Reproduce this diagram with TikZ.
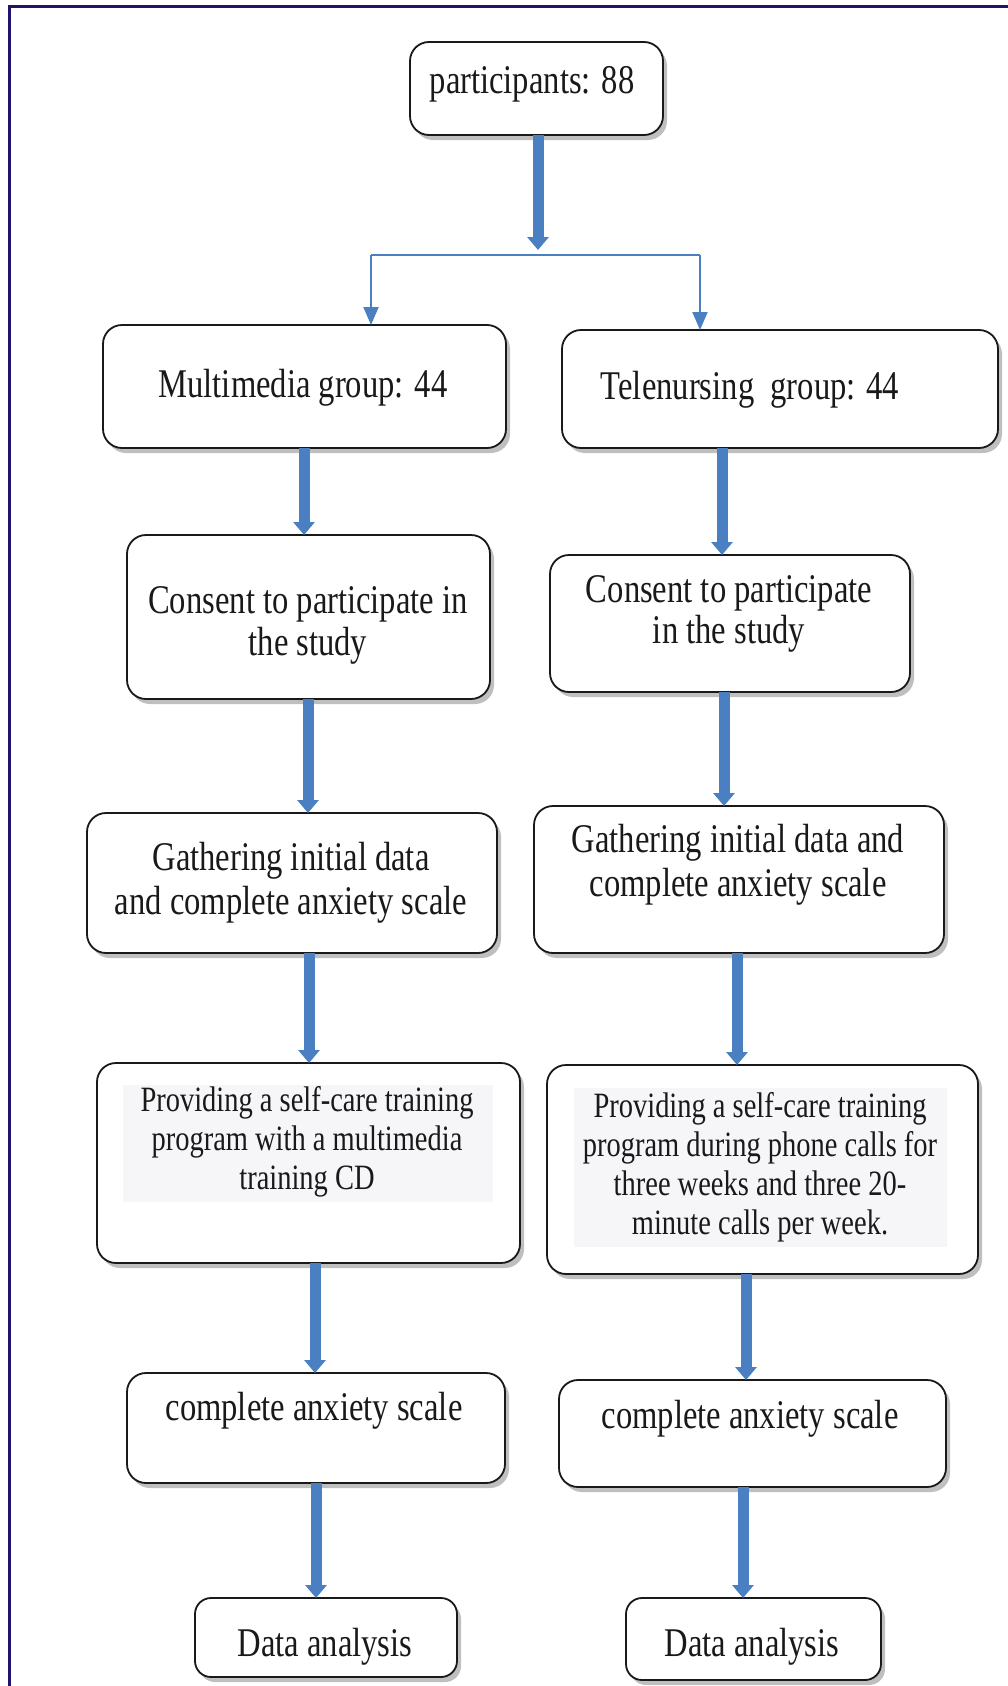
\documentclass[tikz,border=0pt]{standalone}
\usepackage{fontspec}
\setmainfont{Liberation Serif}[FakeStretch=0.8]
\usetikzlibrary{arrows.meta,shadows}
\definecolor{arrowblue}{RGB}{74,128,193}
\definecolor{framenavy}{RGB}{30,20,110}
\definecolor{textbg}{RGB}{246,246,248}
\begin{document}
\begin{tikzpicture}[x=1pt,y=-1pt,
  box/.style={draw=black!90, line width=1.8pt, rounded corners=19pt, fill=white,
    inner sep=0pt, outer sep=0pt,
    drop shadow={shadow xshift=4pt, shadow yshift=-5pt, fill=black!55, opacity=.45}},
  txt/.style={inner sep=0pt, align=center, text=black!90, font=\fontsize{40.75}{44}\selectfont},
  smalltxt/.style={inner sep=0pt, align=center, text=black!90, font=\fontsize{35.6}{39}\selectfont},
  bigarrow/.style={draw=arrowblue, line width=11pt, -{Triangle[width=21pt,length=13pt]}},
  thinline/.style={draw=arrowblue, line width=2pt},
  thinarrow/.style={draw=arrowblue, line width=2pt, -{Triangle[width=15pt,length=18pt]}}
]
\useasboundingbox (0,0) rectangle (1007,1686);
\fill[white] (0,0) rectangle (1007,1686);
\draw[framenavy, line width=3pt] (9,1700) -- (9,7) -- (1020,7);

% boxes
\node[box, minimum width=253pt, minimum height=93pt] (top) at (536.5,88.5) {};
\node[box, minimum width=403pt, minimum height=123pt] (mm) at (304.5,386.5) {};
\node[box, minimum width=436pt, minimum height=118pt] (tn) at (780,389) {};
\node[box, minimum width=363pt, minimum height=164pt] (cl) at (308.5,617) {};
\node[box, minimum width=360pt, minimum height=137pt] (cr) at (730,623.5) {};
\node[box, minimum width=410pt, minimum height=140pt] (gl) at (292,883) {};
\node[box, minimum width=410pt, minimum height=147pt] (gr) at (739,879.5) {};
\node[box, minimum width=423pt, minimum height=200pt] (pl) at (308.5,1163) {};
\node[box, minimum width=431pt, minimum height=209pt] (pr) at (762.5,1169.5) {};
\node[box, minimum width=378pt, minimum height=110pt] (kl) at (316,1428) {};
\node[box, minimum width=387pt, minimum height=107pt] (kr) at (752.5,1433.5) {};
\node[box, rounded corners=16pt, minimum width=262pt, minimum height=79pt] (dl) at (326,1637.5) {};
\node[box, rounded corners=16pt, minimum width=255pt, minimum height=82pt] (dr) at (753.5,1639) {};

% light backgrounds behind the long texts
\fill[textbg] (123,1085) rectangle (493,1202);
\fill[textbg] (574,1088) rectangle (947,1247);

% texts
\node[txt] (toptxt) at (532,84) {participants: 88};
\node[txt] (mmtxt) at (303,388) {Multimedia group: 44};
\node[txt] (tntxt) at (750,390) {Telenursing\ \ group: 44};
\node[txt, font=\fontsize{40.75}{42}\selectfont] (cltxt) at (308,625) {Consent to participate in\\the study};
\node[txt, font=\fontsize{40.75}{41}\selectfont] (crtxt) at (729,614) {Consent to participate\\in the study};
\node[txt] (gltxt) at (291,883) {Gathering initial data\\and complete anxiety scale};
\node[txt] (grtxt) at (738,865) {Gathering initial data and\\complete anxiety scale};
\node[smalltxt] (pltxt) at (307,1142) {Providing a self-care training\\program with a multimedia\\training CD};
\node[smalltxt] (prtxt) at (760,1167) {Providing a self-care training\\program during phone calls for\\three weeks and three 20-\\minute calls per week.};
\node[txt] (kltxt) at (314,1411) {complete anxiety scale};
\node[txt] (krtxt) at (750,1419) {complete anxiety scale};
\node[txt] (dltxt) at (325,1647) {Data analysis};
\node[txt] (drtxt) at (752,1647) {Data analysis};

% split
\coordinate (split) at (538,255);
\coordinate (bl) at (371,255);
\coordinate (br) at (700,255);
\draw[bigarrow] (top.south -| split) -- ([yshift=5pt]split);
\draw[thinline] (bl) -- (br);
\draw[thinarrow] (bl) -- (bl |- mm.north);
\draw[thinarrow] (br) -- (br |- tn.north);

% column guides
\coordinate (l1) at (304,0);
\coordinate (l2) at (308,0);
\coordinate (l3) at (309,0);
\coordinate (l4) at (315,0);
\coordinate (l5) at (316,0);
\coordinate (r1) at (722,0);
\coordinate (r2) at (724,0);
\coordinate (r3) at (737,0);
\coordinate (r4) at (746,0);
\coordinate (r5) at (743,0);

\draw[bigarrow] (mm.south -| l1) -- (cl.north -| l1);
\draw[bigarrow] (cl.south -| l2) -- (gl.north -| l2);
\draw[bigarrow] (gl.south -| l3) -- (pl.north -| l3);
\draw[bigarrow] (pl.south -| l4) -- (kl.north -| l4);
\draw[bigarrow] (kl.south -| l5) -- (dl.north -| l5);

\draw[bigarrow] (tn.south -| r1) -- (cr.north -| r1);
\draw[bigarrow] (cr.south -| r2) -- (gr.north -| r2);
\draw[bigarrow] (gr.south -| r3) -- (pr.north -| r3);
\draw[bigarrow] (pr.south -| r4) -- (kr.north -| r4);
\draw[bigarrow] (kr.south -| r5) -- (dr.north -| r5);
\end{tikzpicture}
\end{document}
